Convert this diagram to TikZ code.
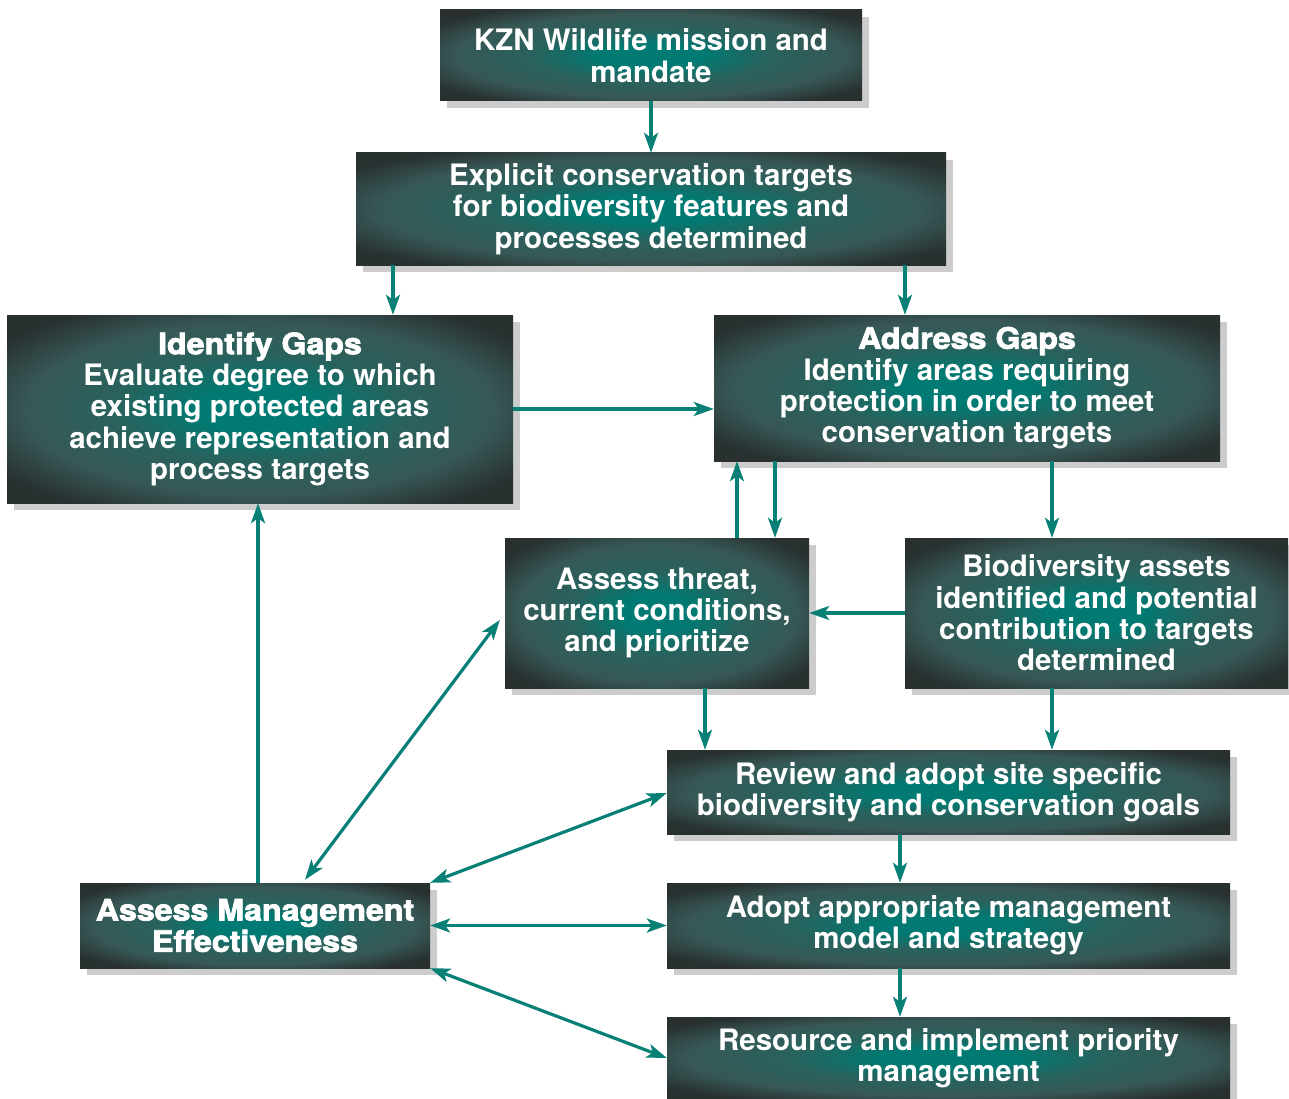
\documentclass[tikz,border=0pt]{standalone}
\usepackage{fontspec}
\setmainfont{TeX Gyre Heros}
\newfontfamily\heavyfont[BoldFeatures={FakeBold=2.6,FakeStretch=1.09}]{TeX Gyre Heros}
\usetikzlibrary{arrows.meta,shadows,calc}
\definecolor{cteal}{RGB}{0,122,114}
\definecolor{cmid}{RGB}{40,98,93}
\definecolor{cmid2}{RGB}{55,88,86}
\definecolor{cdark}{RGB}{40,48,48}
\definecolor{carrow}{RGB}{8,128,118}
\pgfdeclareradialshading{boxshade}{\pgfpoint{0bp}{0bp}}{color(0bp)=(cteal); color(6bp)=(cteal); color(14bp)=(cmid); color(23bp)=(cmid2); color(31bp)=(cdark); color(50bp)=(cdark)}
\tikzset{
  box/.style={rectangle, shading=boxshade, inner sep=0pt, text=white, align=center,
    font=\fontsize{29.5}{31.3}\selectfont\bfseries,
    drop shadow={shadow xshift=7pt, shadow yshift=-7pt, fill=black, opacity=0.2}},
  arr/.style={draw=carrow, line width=3.2pt, -{Stealth[length=20pt,width=14pt,inset=5pt]}},
  darr/.style={draw=carrow, line width=3.2pt, {Stealth[length=20pt,width=14pt,inset=5pt]}-{Stealth[length=20pt,width=14pt,inset=5pt]}},
}
\begin{document}
\begin{tikzpicture}[x=1pt,y=-1pt]
\useasboundingbox (0,0) rectangle (1289,1099);
\node[box, minimum width=422pt, minimum height=91pt] (n1) at (651,55.5) {KZN Wildlife mission and\\mandate};
\node[box, minimum width=590pt, minimum height=112pt] (n2) at (651,209) {Explicit conservation targets\\for biodiversity features and\\processes determined};
\node[box, minimum width=506pt, minimum height=188pt] (n3) at (260,409) {{\heavyfont\bfseries Identify Gaps}\\Evaluate degree to which\\existing protected areas\\achieve representation and\\process targets};
\node[box, minimum width=506pt, minimum height=146pt] (n4) at (967,388) {{\heavyfont\bfseries Address Gaps}\\Identify areas requiring\\protection in order to meet\\conservation targets};
\node[box, minimum width=304pt, minimum height=150pt] (n5) at (657,613) {Assess threat,\\current conditions,\\and prioritize};
\node[box, minimum width=383pt, minimum height=150pt] (n6) at (1096.5,613) {Biodiversity assets\\identified and potential\\contribution to targets\\determined};
\node[box, minimum width=563pt, minimum height=84pt] (n7) at (948.5,792) {Review and adopt site specific\\biodiversity and conservation goals};
\node[box, minimum width=563pt, minimum height=85pt] (n8) at (948.5,925.5) {Adopt appropriate management\\model and strategy};
\node[box, minimum width=563pt, minimum height=82pt] (n9) at (948.5,1058) {Resource and implement priority\\management};
\node[box, minimum width=350pt, minimum height=85pt, font=\fontsize{29.5}{31.3}\selectfont\heavyfont\bfseries] (n10) at (255,925.5) {Assess Management\\Effectiveness};

\coordinate (c393) at (393,0);
\coordinate (c905) at (905,0);
\coordinate (c737) at (737,0);
\coordinate (c775) at (775,0);
\coordinate (c1052) at (1052,0);
\coordinate (c705) at (705,0);
\coordinate (c258) at (258,0);
\coordinate (c305) at (305,0);
\coordinate (c900) at (900,0);
\coordinate (r409) at (0,409);

\draw[arr] (n1.south) -- (n2.north);
\draw[arr] (n2.south -| c393) -- (n3.north -| c393);
\draw[arr] (n2.south -| c905) -- (n4.north -| c905);
\draw[arr] (n3.east |- r409) -- (n4.west |- r409);
\draw[arr] (n5.north -| c737) -- (n4.south -| c737);
\draw[arr] (n4.south -| c775) -- (n5.north -| c775);
\draw[arr] (n4.south -| c1052) -- (n6.north -| c1052);
\draw[arr] (n6.west) -- (n5.east);
\draw[arr] (n5.south -| c705) -- (n7.north -| c705);
\draw[arr] (n6.south -| c1052) -- (n7.north -| c1052);
\draw[arr] (n7.south -| c900) -- (n8.north -| c900);
\draw[arr] (n8.south -| c900) -- (n9.north -| c900);
\draw[arr] (n10.north -| c258) -- (n3.south -| c258);
\draw[darr] ($(n10.north -| c305)+(0,-3)$) -- ($(n5.west)+(-5,7)$);
\draw[darr] (n10.north east) -- ($(n7.west)+(0,1)$);
\draw[darr] (n10.east) -- (n8.west);
\draw[darr] (n10.south east) -- (n9.west);
\end{tikzpicture}
\end{document}
